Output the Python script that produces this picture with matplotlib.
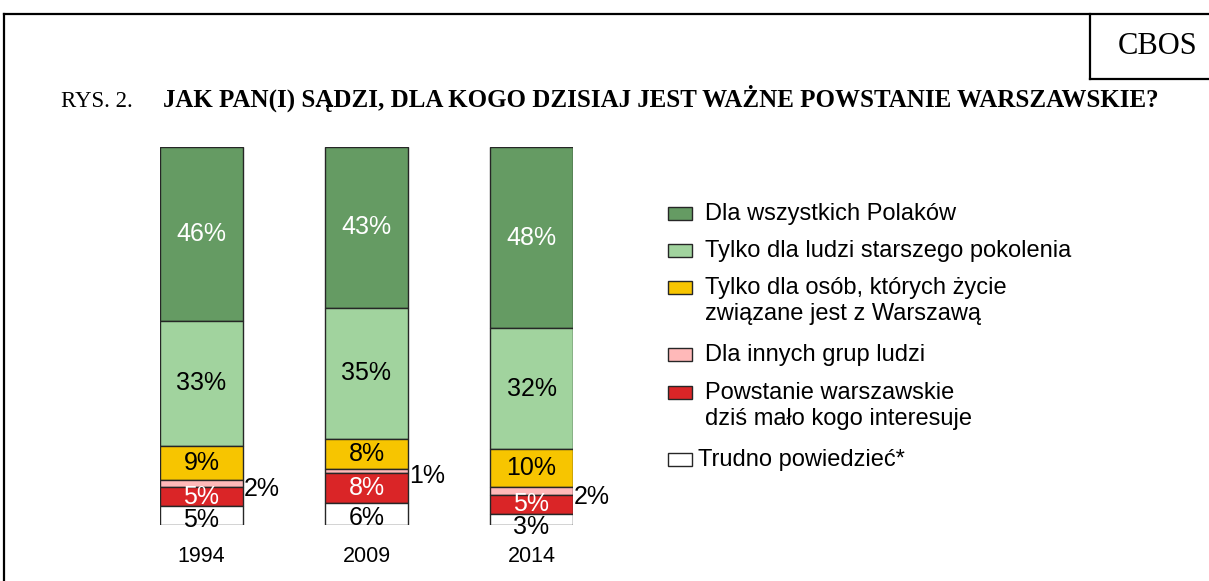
import matplotlib
matplotlib.use("Agg")
import matplotlib.pyplot as plt
from matplotlib.patches import Rectangle
import numpy as np

# data
years = ['1994', '2009', '2014']
series = ['Dla wszystkich Polaków',
          'Tylko dla ludzi starszego pokolenia',
          'Tylko dla osób, których życie\nzwiązane jest z Warszawą',
          'Dla innych grup ludzi',
          'Powstanie warszawskie\ndziś mało kogo interesuje',
          'Trudno powiedzieć*']
wszyscy = [46, 43, 48]
starsi = [33, 35, 32]
warszawa = [9, 8, 10]
inni = [2, 1, 2]
malo_kogo = [5, 8, 5]
trudno = [5, 6, 3]

colors = ['#659b63', '#a1d39e', '#f7c500', '#ffb9b9', '#da2527', '#ffffff']
txt_colors = ['white', 'black', 'black', 'black', 'white', 'black']

W, H = 1209, 581
fig = plt.figure(figsize=(W/100, H/100), dpi=100)

def fx(x):
    return x / W

def fy(y):
    return 1 - y / H

# frame lines
fig.add_artist(plt.Line2D([fx(4), fx(4)], [fy(14), 0], color='black', lw=1.6))
fig.add_artist(plt.Line2D([fx(4), 1], [fy(14), fy(14)], color='black', lw=1.6))
fig.add_artist(plt.Line2D([fx(1090), fx(1090)], [fy(14), fy(79)], color='black', lw=1.6))
fig.add_artist(plt.Line2D([fx(1090), 1], [fy(79), fy(79)], color='black', lw=1.6))
fig.text(fx(1158), fy(47), 'CBOS', ha='center', va='center', fontsize=22,
         family='Liberation Serif')

fig.text(fx(61), fy(107), 'RYS. 2.', ha='left', va='baseline', fontsize=16.5,
         family='Liberation Serif')
fig.text(fx(163), fy(107), 'JAK PAN(I) SĄDZI, DLA KOGO DZISIAJ JEST WAŻNE POWSTANIE WARSZAWSKIE?',
         ha='left', va='baseline', fontsize=18, family='Liberation Serif', weight='bold')

# bars
ax = fig.add_axes([fx(160), fy(525), fx(573) - fx(160), (525 - 147) / H])
data = np.array([wszyscy, starsi, warszawa, inni, malo_kogo, trudno], dtype=float)
totals = data.sum(axis=0)
scaled = data / totals * 100
x = np.arange(len(years))
bw = 83 / 165
ax.set_xlim(-bw / 2, 2 + bw / 2)
ax.set_ylim(0, 100)
ax.axis('off')

top = np.full(len(years), 100.0)
for i in range(len(series)):
    bottom = top - scaled[i]
    ax.bar(x, scaled[i], bw, bottom=bottom, color=colors[i], edgecolor='#262626', lw=1)
    for j in range(len(years)):
        mid = bottom[j] + scaled[i][j] / 2
        lab = '%d%%' % data[i][j]
        if i == 3:
            ax.text(x[j] + bw / 2 + 0.005, mid - 1.5, lab, ha='left', va='center',
                    fontsize=18, family='Liberation Sans', clip_on=False)
        else:
            yy = mid
            if i == 5:
                # labels of the bottom segment sink a bit below the bar
                yy = mid - 1.2 - (0.8 if data[i][j] < 4 else 0)
            ax.text(x[j], yy, lab, ha='center', va='center', fontsize=18,
                    color=txt_colors[i], family='Liberation Sans', clip_on=False)
    top = bottom

for j in range(len(years)):
    ax.text(x[j], -8.3, years[j], ha='center', va='center', fontsize=15.5,
            family='Liberation Sans', clip_on=False)

# legend (square bottom sits on text baseline)
base_y = [220, 257, 294, 361, 399, 466]
for i in range(len(series)):
    tx = 705 if i < 5 else 698
    fig.add_artist(Rectangle((fx(668), fy(base_y[i])), 24 / W, 13 / H,
                             facecolor=colors[i], edgecolor='#262626', lw=1))
    for k, line in enumerate(series[i].split('\n')):
        fig.text(fx(tx), fy(base_y[i] + 26 * k), line, ha='left', va='baseline',
                 fontsize=17, family='Liberation Sans')

fig.savefig('out.png', dpi=100)
